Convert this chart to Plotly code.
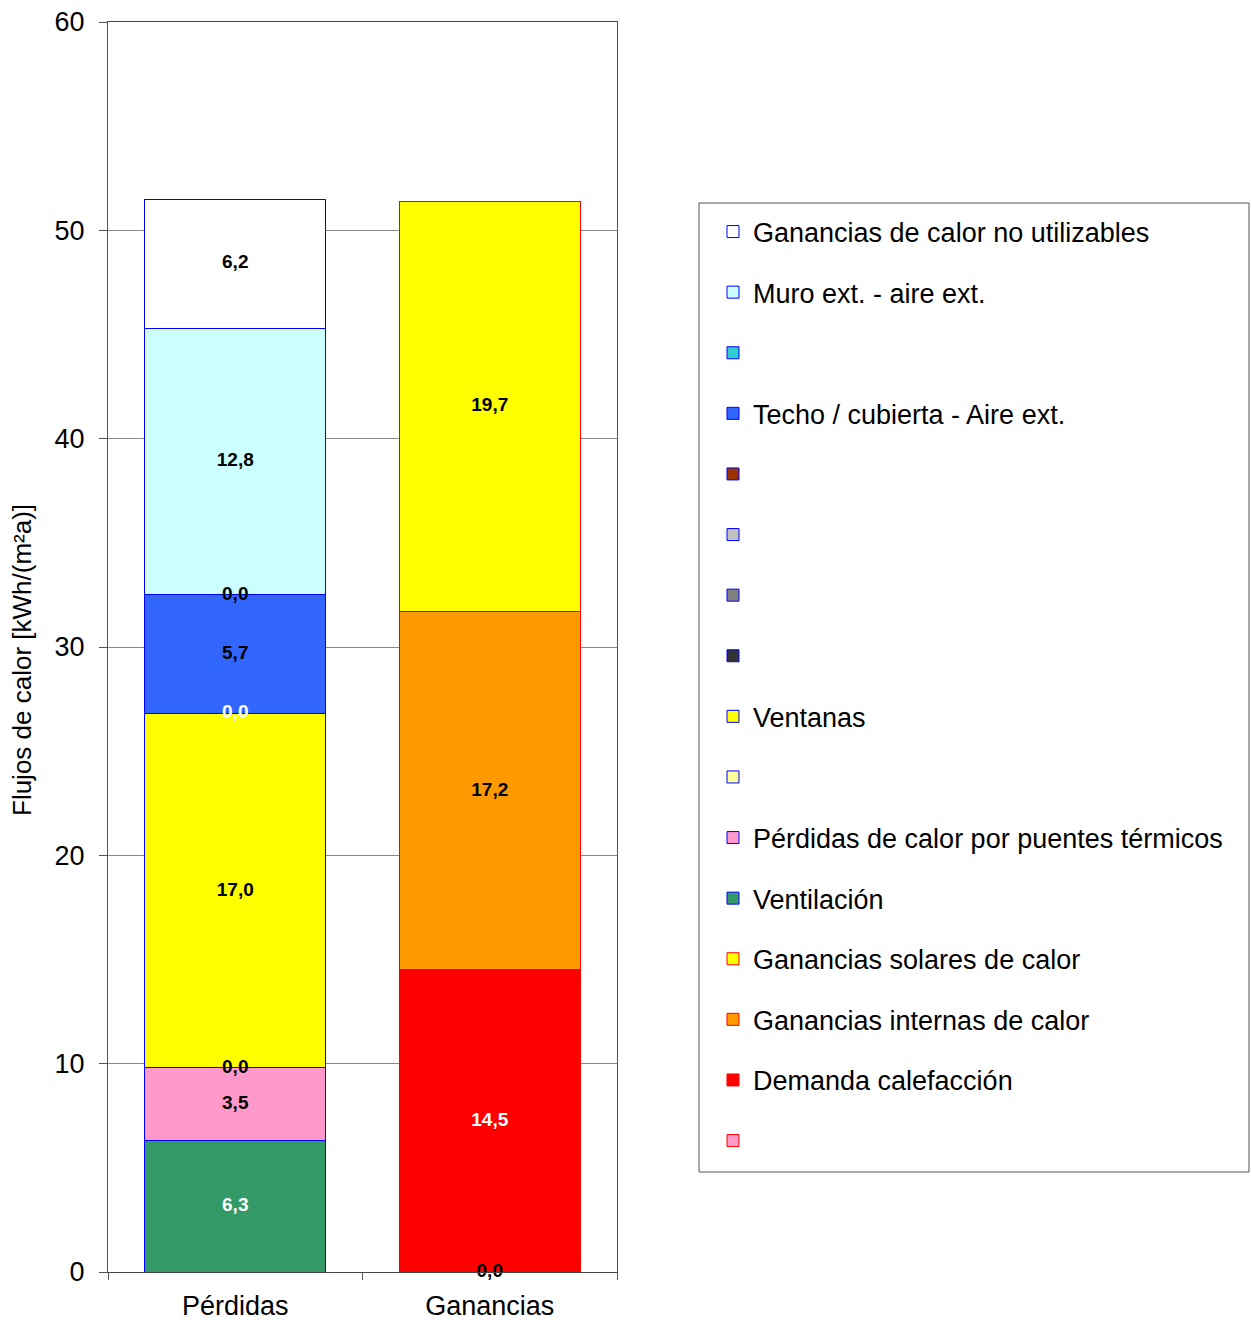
import plotly.graph_objects as go

categories = ["Pérdidas", "Ganancias"]

# series listed bottom to top of the stack
series_names = [
    "",
    "Demanda calefacción",
    "Ganancias internas de calor",
    "Ganancias solares de calor",
    "Ventilación",
    "Pérdidas de calor por puentes térmicos",
    "",
    "Ventanas",
    "",
    "",
    "",
    "",
    "Techo / cubierta - Aire ext.",
    "",
    "Muro ext. - aire ext.",
    "Ganancias de calor no utilizables",
]
perdidas = [None, None, None, None, 6.3, 3.5, 0.0, 17.0, 0.0, None, None, None, 5.7, 0.0, 12.8, 6.2]
ganancias = [0.0, 14.5, 17.2, 19.7, None, None, None, None, None, None, None, None, None, None, None, None]

fill_colors = [
    "#FF99CC", "#FF0000", "#FF9900", "#FFFF00",
    "#339966", "#FF99CC", "#FFFF99", "#FFFF00",
    "#333333", "#808080", "#C0C0C0", "#993300",
    "#3366FF", "#33CCCC", "#CCFFFF", "#FFFFFF",
]
edge_colors = ["#FF0000"] * 4 + ["#0000FF"] * 12
label_colors = [
    "black", "white", "black", "black",
    "white", "black", "black", "black",
    "white", "black", "black", "black",
    "black", "black", "black", "black",
]

FONT = "Arial, Liberation Sans, sans-serif"

# plot area in pixels
W, H = 1251, 1320
PL, PR, PT, PB = 108, 617, 22, 1272


def px(x):
    return (x - PL) / (PR - PL)


def py(y):
    return (PB - y) / (PB - PT)


fig = go.Figure()

n = len(series_names)
for i, name in enumerate(series_names):
    fig.add_trace(go.Bar(
        x=categories,
        y=[perdidas[i], ganancias[i]],
        name=name,
        legendgroup=f"g{i}",
        legendrank=n - i,
        marker=dict(color=fill_colors[i], line=dict(color=edge_colors[i], width=1)),
        width=0.71,
        hoverinfo="skip",
    ))

# data labels centred on each segment
base = {c: 0.0 for c in categories}
lab_x, lab_y, lab_t, lab_c = [], [], [], []
for i in range(n):
    for c, v in zip(categories, (perdidas[i], ganancias[i])):
        if v is None:
            continue
        lab_x.append(c)
        lab_y.append(base[c] + v / 2)
        lab_t.append(f"<b>{v:.1f}</b>".replace(".", ","))
        lab_c.append(label_colors[i])
        base[c] += v

fig.add_trace(go.Scatter(
    x=lab_x, y=lab_y, text=lab_t, mode="text",
    textfont=dict(family=FONT, size=19, color=lab_c),
    cliponaxis=False,
    showlegend=False, hoverinfo="skip",
))

# legend frame
fig.add_shape(
    type="rect", xref="paper", yref="paper",
    x0=px(699), x1=px(1249), y0=py(1172), y1=py(203),
    line=dict(color="#555555", width=1), fillcolor="rgba(0,0,0,0)",
)

# y axis title (sits a little below the plot centre in the original)
fig.add_annotation(
    text="Flujos de calor [kWh/(m²a)]",
    xref="paper", yref="paper", x=px(22), y=py(660),
    xanchor="center", yanchor="middle", textangle=-90,
    showarrow=False, font=dict(family=FONT, size=26, color="black"),
)

fig.update_layout(
    barmode="stack",
    width=W,
    height=H,
    margin=dict(l=PL, r=W - PR, t=PT, b=H - PB),
    plot_bgcolor="white",
    paper_bgcolor="white",
    font=dict(family=FONT, size=27, color="black"),
    legend=dict(
        x=px(713), y=py(207.5),
        xanchor="left", yanchor="top",
        traceorder="grouped",
        tracegroupgap=22.5,
        borderwidth=0,
        bgcolor="rgba(0,0,0,0)",
        font=dict(family=FONT, size=27, color="black"),
    ),
    xaxis=dict(
        type="category",
        range=[-0.5, 1.5],
        showline=True, linecolor="#444444", linewidth=1, mirror=True,
        ticks="outside", tickson="boundaries", ticklen=7, tickcolor="#555555",
        showgrid=False,
        tickfont=dict(size=27),
        ticklabelstandoff=10,
        automargin=False,
    ),
    yaxis=dict(
        range=[0, 60],
        dtick=10,
        showline=True, linecolor="#555555", linewidth=1, mirror=True,
        ticks="outside", ticklen=8, tickcolor="#555555",
        showgrid=True, gridcolor="#888888", gridwidth=1,
        zeroline=False,
        tickfont=dict(size=27),
        ticklabelstandoff=9,
        automargin=False,
    ),
)

fig.write_html(
    "out.html",
    config={"displayModeBar": False},
    post_script="document.body.style.margin='0';document.body.style.overflow='hidden';",
)
